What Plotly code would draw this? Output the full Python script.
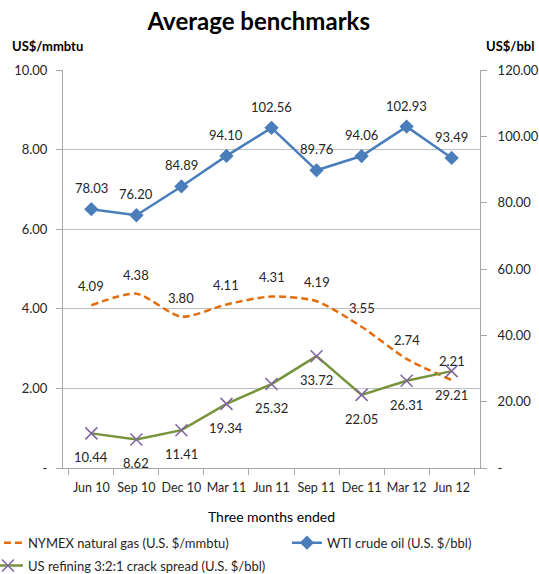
import plotly.graph_objects as go

# Quarterly benchmark averages
quarters = ["Jun 10", "Sep 10", "Dec 10", "Mar 11", "Jun 11", "Sep 11", "Dec 11", "Mar 12", "Jun 12"]
nymex_gas = [4.09, 4.38, 3.80, 4.11, 4.31, 4.19, 3.55, 2.74, 2.21]
wti_crude = [78.03, 76.20, 84.89, 94.10, 102.56, 89.76, 94.06, 102.93, 93.49]
crack_spread = [10.44, 8.62, 11.41, 19.34, 25.32, 33.72, 22.05, 26.31, 29.21]

left_ticks = [0, 2, 4, 6, 8, 10]
right_ticks = [0, 20, 40, 60, 80, 100, 120]

FONT = "Lato, Open Sans, sans-serif"
TXT = "#262626"
GAS_C = "#E46C0A"
WTI_C = "#4A7EBB"
CRACK_C = "#77933C"
CRACK_M = "#8064A2"

fig = go.Figure()

fig.add_trace(go.Scatter(
    x=quarters, y=nymex_gas, name="NYMEX natural gas (U.S. $/mmbtu)",
    mode="lines", line=dict(color=GAS_C, width=2.5, dash="7px,4px", shape="spline", smoothing=0.7),
    yaxis="y", legend="legend", legendgroup="gas",
))
fig.add_trace(go.Scatter(
    x=quarters, y=wti_crude, name="WTI crude oil (U.S. $/bbl)",
    mode="lines+markers", line=dict(color=WTI_C, width=2.5),
    marker=dict(symbol="diamond", size=11, color=WTI_C),
    yaxis="y2", legend="legend2",
))
fig.add_trace(go.Scatter(
    x=quarters, y=crack_spread, name="US refining 3:2:1 crack spread (U.S. $/bbl)",
    mode="lines+markers", line=dict(color=CRACK_C, width=2.5),
    marker=dict(symbol="x-thin", size=12, line=dict(color=CRACK_M, width=1.5), color=CRACK_M),
    yaxis="y2", legend="legend", legendgroup="crack",
))

annotations = []
for q, v in zip(quarters, nymex_gas):
    annotations.append(dict(x=q, y=v, xref="x", yref="y", text=f"{v:.2f}", showarrow=False,
                            yshift=19, font=dict(size=13, color=TXT, family=FONT)))
for q, v in zip(quarters, wti_crude):
    annotations.append(dict(x=q, y=v, xref="x", yref="y2", text=f"{v:.2f}", showarrow=False,
                            yshift=21, font=dict(size=13, color=TXT, family=FONT)))
for q, v in zip(quarters, crack_spread):
    annotations.append(dict(x=q, y=v, xref="x", yref="y2", text=f"{v:.2f}", showarrow=False,
                            yshift=-24, font=dict(size=13, color=TXT, family=FONT)))

annotations.append(dict(text="<b>US$/mmbtu</b>", xref="paper", yref="paper", x=-0.127, y=1.06,
                        xanchor="left", yanchor="middle", showarrow=False,
                        font=dict(size=13, color="black", family=FONT)))
annotations.append(dict(text="<b>US$/bbl</b>", xref="paper", yref="paper", x=1.01, y=1.06,
                        xanchor="left", yanchor="middle", showarrow=False,
                        font=dict(size=13, color="black", family=FONT)))

legend_font = dict(size=13, color=TXT, family=FONT)

fig.update_layout(
    width=539, height=574,
    margin=dict(l=63, r=59, t=70, b=106, autoexpand=False),
    paper_bgcolor="white", plot_bgcolor="white",
    font=dict(family=FONT, size=13, color=TXT),
    title=dict(text="<b>Average benchmarks</b>", x=0.48, xanchor="center", y=0.962, yanchor="middle",
               font=dict(size=24, color="black", family=FONT)),
    showlegend=True,
    legend=dict(orientation="v", x=-0.180, xanchor="left", y=-0.150, yanchor="top",
                font=legend_font, itemwidth=30, tracegroupgap=3, bgcolor="rgba(0,0,0,0)"),
    legend2=dict(orientation="v", x=0.537, xanchor="left", y=-0.150, yanchor="top",
                 font=legend_font, itemwidth=30, bgcolor="rgba(0,0,0,0)"),
    annotations=annotations,
    xaxis=dict(
        type="category", showline=True, linecolor="#A6A6A6", linewidth=1,
        ticks="outside", tickson="boundaries", ticklen=6, tickcolor="#A6A6A6",
        showgrid=False, tickfont=dict(size=12.5, color=TXT), tickangle=0, ticklabelstandoff=8,
        title=dict(text="Three months ended", font=dict(size=14, color="black"), standoff=18),
    ),
    yaxis=dict(
        range=[0, 10], tickvals=left_ticks,
        ticktext=["-" if t == 0 else f"{t:.2f}" for t in left_ticks],
        showline=True, linecolor="#A6A6A6", ticks="outside", ticklen=6, tickcolor="#A6A6A6",
        showgrid=True, gridcolor="#BFBFBF", gridwidth=1, zeroline=False,
        tickfont=dict(size=13, color=TXT), ticklabelstandoff=6,
    ),
    yaxis2=dict(
        range=[0, 120], tickvals=right_ticks,
        ticktext=["-" if t == 0 else f"{t:.2f}" for t in right_ticks],
        overlaying="y", side="right",
        showline=True, linecolor="#A6A6A6", ticks="outside", ticklen=6, tickcolor="#A6A6A6",
        showgrid=False, zeroline=False,
        tickfont=dict(size=13, color=TXT), ticklabelstandoff=8,
    ),
)

fig.write_html("out.html")
